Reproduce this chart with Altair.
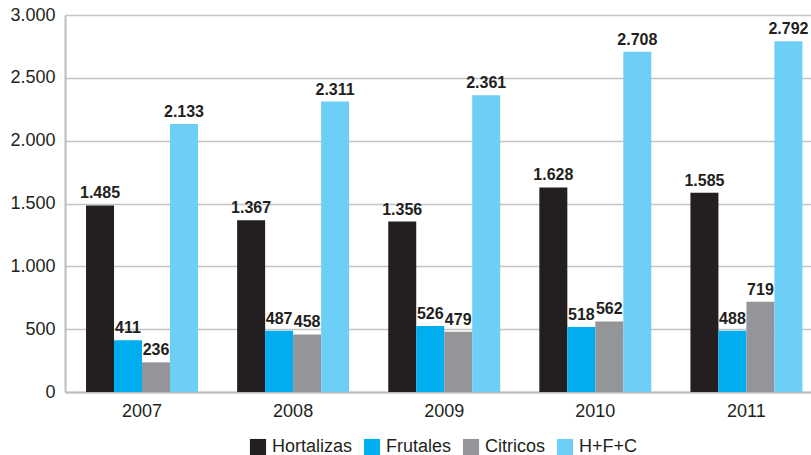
import altair as alt
import pandas as pd

years = ["2007", "2008", "2009", "2010", "2011"]
series = ["Hortalizas", "Frutales", "Citricos", "H+F+C"]
hortalizas = [1485, 1367, 1356, 1628, 1585]
frutales = [411, 487, 526, 518, 488]
citricos = [236, 458, 479, 562, 719]
hfc = [2133, 2311, 2361, 2708, 2792]
colors = ["#231f20", "#00adef", "#939598", "#6dcff6"]

rows = []
for s, vals in zip(series, [hortalizas, frutales, citricos, hfc]):
    for y, v in zip(years, vals):
        rows.append({"year": y, "serie": s, "value": v})
df = pd.DataFrame(rows)

FONT = "Liberation Sans"

base = alt.Chart(df).encode(
    x=alt.X("year:N", sort=years, title=None,
            scale=alt.Scale(paddingInner=0.259, paddingOuter=0.098, align=0.71),
            axis=alt.Axis(labelAngle=0, labelFontSize=18, labelPadding=10, ticks=False,
                          domainColor="#bdbdbd", domainWidth=2, labelColor="#231f20",
                          labelFont=FONT)),
    xOffset=alt.XOffset("serie:N", sort=series, scale=alt.Scale(paddingInner=0, paddingOuter=0)),
)

bars = base.mark_bar().encode(
    y=alt.Y("value:Q", title=None,
            scale=alt.Scale(domain=[0, 3000]),
            axis=alt.Axis(values=[0, 500, 1000, 1500, 2000, 2500, 3000], ticks=False,
                          labelExpr="replace(format(datum.value, ','), ',', '.')",
                          labelFontSize=18, labelPadding=10, labelColor="#231f20",
                          labelFont=FONT, gridColor="#c4c4c4", gridWidth=1.5,
                          domainColor="#bdbdbd", domainWidth=2)),
    color=alt.Color("serie:N", sort=series,
                    scale=alt.Scale(domain=series, range=colors),
                    legend=alt.Legend(title=None, orient="none", direction="horizontal",
                                      legendX=184, legendY=423,
                                      symbolType="square", symbolSize=260, symbolStrokeWidth=0,
                                      labelFontSize=18, labelFont=FONT, labelColor="#231f20",
                                      columnPadding=10, labelOffset=5)),
)

labels = base.mark_text(dy=-12, fontSize=16, fontWeight="bold", font=FONT,
                        color="#231f20").transform_calculate(
    lab="replace(format(datum.value, ','), ',', '.')"
).encode(
    y=alt.Y("value:Q"),
    text="lab:N",
)

chart = alt.layer(bars, labels).properties(
    width=746, height=377,
    autosize=alt.AutoSizeParams(type="none"),
    padding={"left": 65, "top": 15, "right": 0, "bottom": 63},
).configure_view(stroke=None).configure_legend(symbolFillColor=None)

chart.save("out.html", embed_options={"renderer": "svg", "actions": False})
